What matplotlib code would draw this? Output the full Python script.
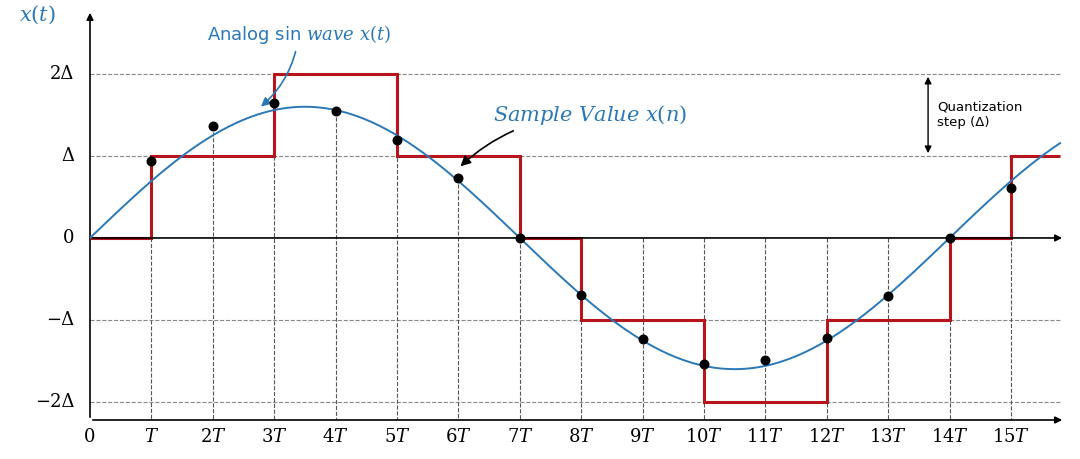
import matplotlib
matplotlib.use("Agg")
import matplotlib.pyplot as plt
import numpy as np

plt.rcParams["mathtext.fontset"] = "dejavuserif"

# sample index k (in units of T) and sampled values (in units of delta)
sample_k = list(range(1, 16))
sample_vals = [0.94, 1.37, 1.65, 1.55, 1.20, 0.73, 0.0, -0.70, -1.23, -1.54,
               -1.49, -1.22, -0.71, 0.0, 0.61]

# quantized staircase: segment edges (T) and levels (delta)
step_edges = [0, 1, 3, 5, 7, 8, 10, 12, 14, 15, 15.8]
step_levels = [0, 1, 2, 1, 0, -1, -2, -1, 0, 1]

# analog sine parameters
amplitude = 1.6
period = 14.0
t_end = 15.8

x_labels = ["0", "$T$"] + [f"${k}T$" for k in range(2, 16)]
y_ticks = [2, 1, 0, -1, -2]
y_labels = ["2Δ", "Δ", "0", "−Δ", "−2Δ"]

blue = "#2a78b8"
red = "#b8141c"

fig = plt.figure(figsize=(10.8, 4.59), dpi=100)
ax = fig.add_axes([90 / 1080, 39 / 459, 975 / 1080, 410 / 459])
ax.set_xlim(0, 15.88)
ax.set_ylim(-2.22, 2.78)
ax.axis("off")

# dashed guides
for lv in [2, 1, -1, -2]:
    ax.plot([0, t_end], [lv, lv], ls="--", color="#888888", lw=0.8, zorder=1)
for k, v in zip(sample_k, sample_vals):
    ax.plot([k, k], [max(v, 0), -2.22], ls="--", color="#555555", lw=0.8, zorder=1)

# axes with arrows
ax.annotate("", xy=(15.88, 0), xytext=(0, 0),
            arrowprops=dict(arrowstyle="-|>", color="black", lw=1.2))
ax.annotate("", xy=(15.88, -2.22), xytext=(0, -2.22),
            arrowprops=dict(arrowstyle="-|>", color="black", lw=1.2))
ax.annotate("", xy=(0, 2.78), xytext=(0, -2.22),
            arrowprops=dict(arrowstyle="-|>", color="black", lw=1.2))

# analog wave
t = np.linspace(0, t_end, 400)
ax.plot(t, amplitude * np.sin(2 * np.pi * t / period), color=blue, lw=1.4, zorder=3)

# quantized staircase
ax.stairs(step_levels, step_edges, color=red, lw=2.2, baseline=None, zorder=2)

# samples
ax.scatter(sample_k, sample_vals, s=38, color="black", zorder=5)

# tick labels
for k, lab in enumerate(x_labels):
    ax.text(k, -2.32, lab, ha="center", va="top", fontsize=13, family="DejaVu Serif")
for v, lab in zip(y_ticks, y_labels):
    ax.text(-0.25, v, lab, ha="right", va="center", fontsize=13, family="DejaVu Serif")

ax.text(-1.15, 2.72, "$x(t)$", color=blue, fontsize=15, ha="left", va="center")

ax.annotate("Analog sin $wave$ $x(t)$", xy=(2.75, 1.58), xytext=(3.4, 2.48),
            color=blue, fontsize=13, ha="center", va="center",
            arrowprops=dict(arrowstyle="-|>", color=blue, lw=1.2,
                            connectionstyle="arc3,rad=-0.2"))
ax.annotate("$Sample\\ Value\\ x(n)$", xy=(6.0, 0.85), xytext=(8.15, 1.5),
            color=blue, fontsize=15, ha="center", va="center",
            arrowprops=dict(arrowstyle="-|>", color="black", lw=1.2,
                            connectionstyle="arc3,rad=0.2"))

# quantization step marker
ax.annotate("", xy=(13.65, 2), xytext=(13.65, 1),
            arrowprops=dict(arrowstyle="<|-|>", color="black", lw=1.0))
ax.text(13.8, 1.5, "Quantization\nstep (Δ)", fontsize=9.5, ha="left", va="center")

fig.savefig("out.png", dpi=100)
